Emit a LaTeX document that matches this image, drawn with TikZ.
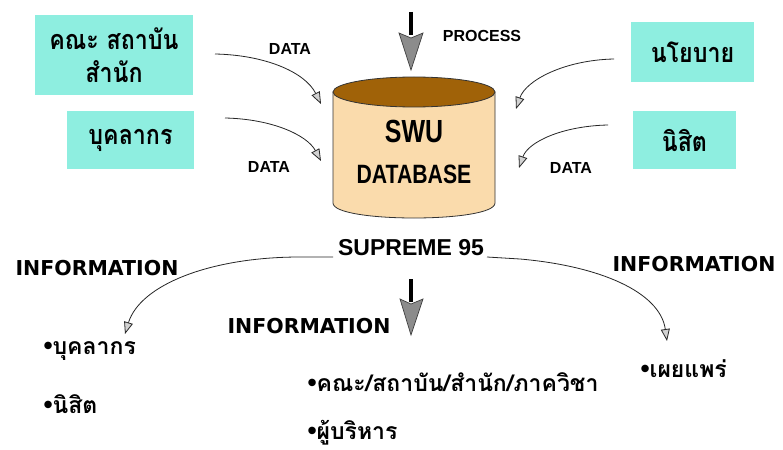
\documentclass[tikz,border=0pt]{standalone}
\usepackage{fontspec}
\setmainfont{Liberation Sans}
\newfontfamily\thaifont[Script=Thai]{Loma}
\newfontfamily\dvfont{DejaVu Sans}
\usetikzlibrary{arrows.meta}
\definecolor{boxcyan}{RGB}{142,238,224}
\definecolor{dbtop}{RGB}{160,98,8}
\definecolor{dbside}{RGB}{250,219,172}
\definecolor{headgray}{RGB}{140,140,140}
\begin{document}
\begin{tikzpicture}[x=1pt,y=-1pt,
  srcbox/.style={fill=boxcyan, inner sep=0pt},
  boxtext/.style={font=\thaifont\bfseries\fontsize{27}{33}\selectfont, align=center, xscale=0.86},
  flow/.style={draw=black!85, line width=0.8pt, -{Triangle[length=12pt,width=9pt,fill=gray!35]}},
  lbl/.style={font=\bfseries\fontsize{16}{18}\selectfont},
  infolbl/.style={font=\dvfont\bfseries\fontsize{20.5}{22}\selectfont},
  item/.style={anchor=west, font=\thaifont\bfseries\fontsize{23}{26}\selectfont}]
\useasboundingbox (0,0) rectangle (783,449);
\fill[white] (0,0) rectangle (783,449);

% source boxes
\node[srcbox, minimum width=158pt, minimum height=80pt] (fac) at (114,55) {};
\node[boxtext] at (fac.center) {คณะ สถาบัน\\สำนัก};
\node[srcbox, minimum width=127pt, minimum height=58pt] (staff) at (130.5,140) {};
\node[boxtext] at (staff.center) {บุคลากร};
\node[srcbox, minimum width=123pt, minimum height=60pt] (policy) at (692.5,52) {};
\node[boxtext] at (policy.center) {นโยบาย};
\node[srcbox, minimum width=103pt, minimum height=58pt] (student) at (684.5,140) {};
\node[boxtext] at (student.center) {นิสิต};

% database cylinder
\filldraw[fill=dbside, draw=black!80, line width=0.8pt] (333,92) -- (333,203) .. controls (333,223) and (495,223) .. (495,203) -- (495,92) -- cycle;
\filldraw[fill=dbtop, draw=black!80, line width=0.8pt] (414,92) ellipse [x radius=81pt, y radius=15pt];
\node[font=\bfseries\fontsize{32}{34}\selectfont, xscale=0.78] (swu) at (414,131) {SWU};
\node[font=\bfseries\fontsize{26.5}{28}\selectfont, xscale=0.8] (db) at (414,174) {DATABASE};

% process arrow
\draw[line width=4pt] (411,12) -- (411,35);
\filldraw[fill=headgray, draw=black!75, line width=0.7pt] (399,33) -- (411,38) -- (423,33) -- (411,70) -- cycle;
\coordinate (proc) at (411,70);
\node[lbl] (process) at (482,36) {PROCESS};

% data labels
\node[lbl] (d1) at (290,49) {DATA};
\node[lbl] (d2) at (269,167) {DATA};
\node[lbl] (d3) at (571,168) {DATA};

% data flow curves
\coordinate (f1s) at (215,54);  \coordinate (f1e) at (321,104);
\coordinate (f2s) at (225,118); \coordinate (f2e) at (321,161);
\coordinate (f3s) at (614,59);  \coordinate (f3e) at (516,109);
\coordinate (f4s) at (608,125); \coordinate (f4e) at (519,168);
\draw[flow] (f1s) .. controls (265,55) and (305,72) .. (f1e);
\draw[flow] (f2s) .. controls (272,119) and (307,135) .. (f2e);
\draw[flow] (f3s) .. controls (565,60) and (526,80) .. (f3e);
\draw[flow] (f4s) .. controls (562,126) and (528,142) .. (f4e);

% SUPREME 95
\node[font=\bfseries\fontsize{23}{25}\selectfont, inner sep=0pt] (sup) at (411,248) {SUPREME 95};
\coordinate (supL) at (333,257);
\coordinate (supR) at (487,257);
\coordinate (tL) at (125,334);
\coordinate (tR) at (667,341);
\draw[flow] (supL) -- (300,257) .. controls (210,257) and (140,285) .. (tL);
\draw[flow] (supR) -- (520,259) .. controls (600,266) and (660,292) .. (tR);

% middle arrow
\draw[line width=4pt] (411,279) -- (411,302);
\filldraw[fill=headgray, draw=black!75, line width=0.7pt] (400,299) -- (411,304) -- (423,299) -- (411,335) -- cycle;

% information labels
\node[infolbl] (infoL) at (97,268) {INFORMATION};
\node[infolbl] (infoM) at (309,326) {INFORMATION};
\node[infolbl] (infoR) at (694,264) {INFORMATION};

% items
\node[item] (i1) at (40,351) {{\rmfamily\fontsize{26}{26}\selectfont•}บุคลากร};
\node[item] (i2) at (40,404) {{\rmfamily\fontsize{26}{26}\selectfont•}นิสิต};
\node[item] (i3) at (304,382) {{\rmfamily\fontsize{26}{26}\selectfont•}คณะ/สถาบัน/สำนัก/ภาควิชา};
\node[item] (i4) at (304,433) {{\rmfamily\fontsize{26}{26}\selectfont•}ผู้บริหาร};
\node[item] (i5) at (637,369) {{\rmfamily\fontsize{26}{26}\selectfont•}เผยแพร่};
\end{tikzpicture}
\end{document}
